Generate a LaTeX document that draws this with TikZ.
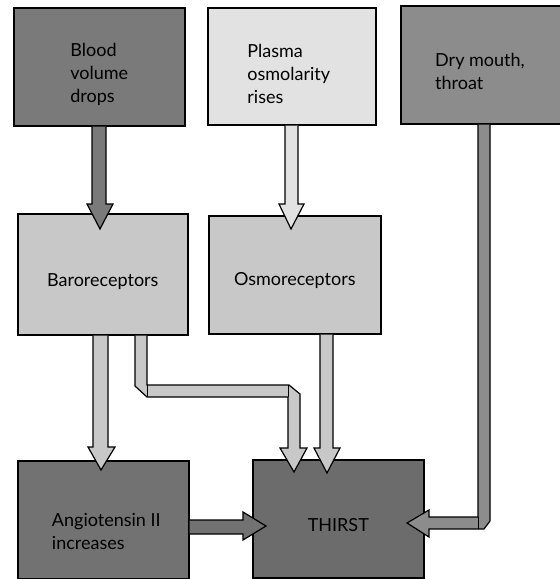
\documentclass[tikz,border=0pt]{standalone}
\usepackage{fontspec}
\setmainfont{Lato}
\begin{document}
\begin{tikzpicture}[x=1pt,y=-1pt]
\definecolor{cdarkA}{RGB}{122,122,122}
\definecolor{clight}{RGB}{226,226,226}
\definecolor{cmid}{RGB}{140,140,140}
\definecolor{creceptor}{RGB}{200,200,200}
\definecolor{cangio}{RGB}{114,114,114}
\definecolor{cthirst}{RGB}{108,108,108}
\tikzset{
  box/.style={draw=black, line width=1.6pt, anchor=north west, inner sep=0pt},
  lbl/.style={align=left, inner sep=0pt, font=\fontsize{18}{23}\selectfont},
  fat/.style={draw=black, line width=1.2pt, line join=miter},
  fold/.style={draw=black, line width=1pt},
}
\useasboundingbox (0,0) rectangle (560,579);
% boxes
\node[box, fill=cdarkA, minimum width=171pt, minimum height=118pt] (b1) at (13,7) {};
\node[box, fill=clight, minimum width=168pt, minimum height=117pt] (b2) at (207,7) {};
\node[box, fill=cmid, minimum width=160pt, minimum height=118pt] (b3) at (400,5) {};
\node[box, fill=creceptor, minimum width=170pt, minimum height=121pt] (baro) at (17,213) {};
\node[box, fill=creceptor, minimum width=172pt, minimum height=118pt] (osmo) at (208,215) {};
\node[box, fill=cangio, minimum width=171pt, minimum height=118pt] (angio) at (17,460) {};
\node[box, fill=cthirst, minimum width=171pt, minimum height=118pt] (thirst) at (252,459) {};
% labels
\node[lbl] (t1) at ([yshift=-8pt]b1.center) {Blood\\volume\\drops};
\node[lbl] (t2) at ([yshift=-8pt,xshift=-3pt]b2.center) {Plasma\\osmolarity\\rises};
\node[lbl] (t3) at (480,71) {Dry mouth,\\throat};
\node[lbl] (t4) at ([yshift=-7pt]baro.center) {Baroreceptors};
\node[lbl] (t5) at ([yshift=-6pt]osmo.center) {Osmoreceptors};
\node[lbl] (t6) at ([yshift=-12pt,xshift=3pt]angio.center) {Angiotensin II\\increases};
\node[lbl] (t7) at ([yshift=-6pt]thirst.center) {THIRST};
% arrows
\filldraw[fat, fill=cdarkA] (b1.south -| 92,0) -- (92,204) -- (87,204) -- (100,229) -- (113,204) -- (106,204) -- (b1.south -| 106,0);
\filldraw[fat, fill=clight] (b2.south -| 285,0) -- (285,204) -- (279,204) -- (291,229) -- (304,204) -- (298,204) -- (b2.south -| 298,0);
\filldraw[fat, fill=creceptor] (baro.south -| 93,0) -- (93,447) -- (88,447) -- (101,470) -- (115,447) -- (108,447) -- (baro.south -| 108,0);
\filldraw[fat, fill=creceptor] (baro.south -| 135,0) -- (135,386) -- (147,397) -- (288,397) -- (288,448) -- (280,448) -- (294,472) -- (307,448) -- (300,448) -- (300,394) -- (289,385) -- (147,385) -- (baro.south -| 147,0);
\draw[fold] (147,385) -- (147,397);
\draw[fold] (288,385) -- (288,397);
\filldraw[fat, fill=creceptor] (osmo.south -| 320,0) -- (320,448) -- (314,448) -- (327,473) -- (340,448) -- (333,448) -- (osmo.south -| 333,0);
\filldraw[fat, fill=cmid] (b3.south -| 478,0) -- (478,517) -- (429,517) -- (429,510) -- (407,523) -- (429,537) -- (429,529) -- (484,529) -- (490,521) -- (b3.south -| 490,0);
\draw[fold] (478,517) -- (478,529);
\filldraw[fat, fill=cangio] (angio.east |- 0,520) -- (243,520) -- (243,512) -- (266,526) -- (243,540) -- (243,534) -- (angio.east |- 0,534);
\end{tikzpicture}
\end{document}
